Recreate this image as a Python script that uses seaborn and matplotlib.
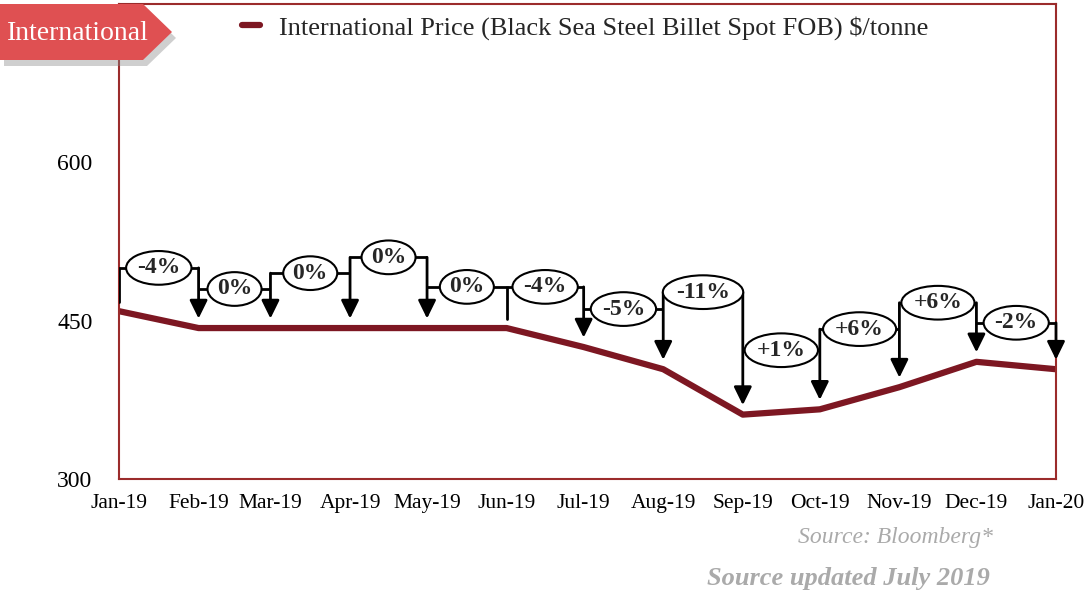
import pandas as pd
import seaborn as sns
import matplotlib.pyplot as plt
import matplotlib.dates as mdates
from matplotlib.patches import Polygon

# data
months = ['2019-01', '2019-02', '2019-03', '2019-04', '2019-05', '2019-06', '2019-07',
          '2019-08', '2019-09', '2019-10', '2019-11', '2019-12', '2020-01']
prices = [459, 443, 443, 443, 443, 443, 425, 404, 361, 366, 387, 411, 404]
pct_labels = ['-4%', '0%', '0%', '0%', '0%', '-4%', '-5%', '-11%', '+1%', '+6%', '+6%', '-2%']

# height of each month-to-month bracket (layout only)
bracket_levels = [500, 480, 495, 510, 482, 482, 461, 477, 422, 442, 467, 448]
plain_stems = [0, 5]   # stems drawn without arrow head

line_red = '#7d1722'
axis_red = '#9b2b2b'
tag_red = '#df5052'

df = pd.DataFrame({'month': pd.to_datetime(months), 'price': prices})
xn = mdates.date2num(df['month'])

sns.set_style('white')
plt.rcParams['font.family'] = ['Liberation Serif', 'DejaVu Serif']

fig = plt.figure(figsize=(10.89, 5.92), dpi=100)
ax = fig.add_axes([119 / 1089, 113 / 592, 937 / 1089, 475 / 592])

sns.lineplot(data=df, x='month', y='price', color=line_red, lw=4.5, ax=ax,
             label='International Price (Black Sea Steel Billet Spot FOB) $/tonne')
handles, labels = ax.get_legend_handles_labels()
if ax.get_legend() is not None:
    ax.get_legend().remove()

# brackets with % change
for i, lab in enumerate(pct_labels):
    lvl = bracket_levels[i]
    ax.plot([xn[i], xn[i + 1]], [lvl, lvl], color='black', lw=2, solid_capstyle='butt', zorder=3)
    ax.text((xn[i] + xn[i + 1]) / 2, lvl, lab, ha='center', va='center', fontsize=17,
            fontweight='bold', zorder=5,
            bbox=dict(boxstyle='ellipse,pad=0.06', fc='white', ec='black', lw=1.5))

for k in range(len(xn)):
    tops = [bracket_levels[j] for j in (k - 1, k) if 0 <= j < len(bracket_levels)]
    top = max(tops)
    tip = prices[k] + 9
    if k in plain_stems:
        ax.plot([xn[k], xn[k]], [top, tip], color='black', lw=2, zorder=3)
    else:
        ax.annotate('', xy=(xn[k], tip), xytext=(xn[k], top), zorder=3,
                    arrowprops=dict(arrowstyle='-|>,head_length=0.55,head_width=0.27',
                                    mutation_scale=20, color='black', lw=2,
                                    shrinkA=0, shrinkB=0))

ax.set_xlim(xn[0], xn[-1])
ax.set_ylim(300, 750)
ax.set_xticks(xn)
ax.set_xticklabels([d.strftime('%b-%y') for d in df['month']])
ax.set_yticks([300, 450, 600])
ax.set_xlabel('')
ax.set_ylabel('')
for s in ax.spines.values():
    s.set_color(axis_red)
    s.set_linewidth(1.5)
ax.tick_params(axis='both', direction='out', length=6, width=1.5, color=axis_red,
               labelsize=15.5, labelcolor='black')
ax.tick_params(axis='y', labelsize=17, pad=13)
ax.tick_params(axis='x', pad=5)

fig.legend(handles, labels, loc='center left', bbox_to_anchor=(242 / 1089, 1 - 28 / 592),
           frameon=False, fontsize=19, handlelength=0.7, handletextpad=0.7,
           borderpad=0, borderaxespad=0)


def fpt(x, y):
    return (x / 1089, 1 - y / 592)


# "International" tag with shadow
shape = [(0, 4), (143, 4), (172, 32), (143, 60), (0, 60)]
shadow = Polygon([fpt(x + 4, y + 6) for x, y in shape], closed=True, transform=fig.transFigure,
                 fc='#888888', ec='none', alpha=0.4, zorder=9)
tag = Polygon([fpt(x, y) for x, y in shape], closed=True, transform=fig.transFigure,
              fc=tag_red, ec='none', zorder=10)
fig.patches.extend([shadow, tag])
fig.text(78 / 1089, 1 - 33 / 592, 'International', color='white', fontsize=20,
         ha='center', va='center', zorder=11)

fig.text(993 / 1089, 1 - 537 / 592, 'Source: Bloomberg*', ha='right', va='center',
         style='italic', color='#aaaaaa', fontsize=17)
fig.text(990 / 1089, 1 - 578 / 592, 'Source updated July 2019', ha='right', va='center',
         style='italic', fontweight='bold', color='#aaaaaa', fontsize=19)

fig.savefig('out.png', dpi=100)
